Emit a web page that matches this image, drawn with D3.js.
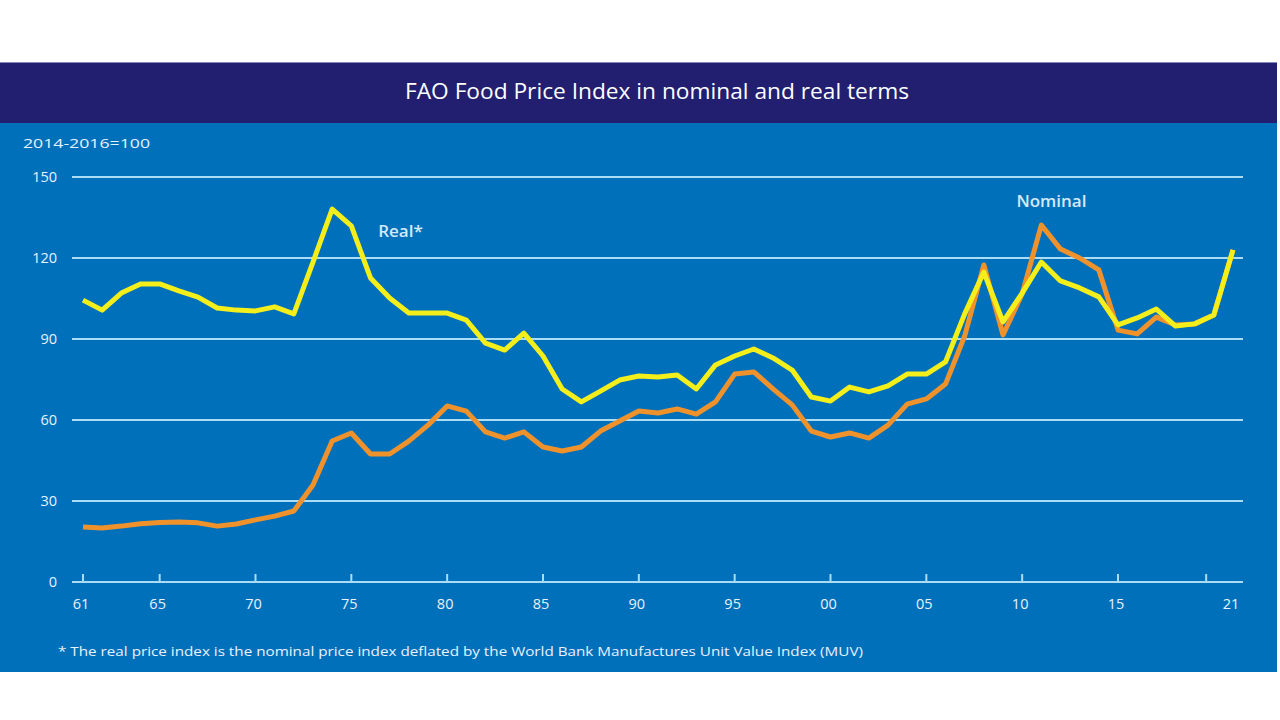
<!DOCTYPE html>
<html>
<head>
<meta charset="utf-8">
<script src="https://cdn.jsdelivr.net/npm/d3@7"></script>
<style>
  html, body { margin: 0; padding: 0; background: #ffffff; }
  svg { display: block; }
  text { font-family: "Open Sans", "Noto Sans", sans-serif; }
</style>
</head>
<body>
<svg id="chart" width="1280" height="720"></svg>
<script>
// ---- data ----
const years = d3.range(1961, 2022);
const realIndex = [
  104.4, 100.7, 107.0, 110.4, 110.4, 107.8, 105.5, 101.5, 100.7, 100.4,
  101.9, 99.3, 118.5, 138.1, 131.9, 112.6, 105.2, 99.6, 99.6, 99.6,
  97.0, 88.5, 85.9, 92.2, 83.7, 71.5, 66.7, 70.7, 74.8, 76.3,
  75.9, 76.7, 71.5, 80.4, 83.7, 86.3, 83.0, 78.5, 68.5, 67.0,
  72.2, 70.4, 72.6, 77.0, 77.0, 81.5, 99.3, 114.8, 96.3, 107.0,
  118.5, 111.5, 108.9, 105.6, 95.2, 97.8, 101.1, 94.8, 95.6, 98.9,
  123.0
];
const nominalIndex = [
  20.4, 20.0, 20.7, 21.6, 22.0, 22.2, 21.9, 20.7, 21.5, 23.0,
  24.4, 26.3, 35.9, 52.2, 55.2, 47.4, 47.4, 52.2, 58.1, 65.2,
  63.3, 55.6, 53.3, 55.6, 50.0, 48.5, 50.0, 55.9, 59.6, 63.3,
  62.6, 64.1, 62.2, 66.7, 77.0, 77.8, 71.5, 65.6, 55.9, 53.7,
  55.2, 53.3, 58.1, 65.9, 67.8, 73.3, 91.1, 117.4, 91.5, 106.7,
  132.2, 123.3, 120.0, 115.6, 93.3, 91.9, 98.1, 95.2, 95.6, 98.9,
  123.0
];
const yTicks = [0, 30, 60, 90, 120, 150];
const xTickYears = [1961, 1965, 1970, 1975, 1980, 1985, 1990, 1995, 2000, 2005, 2010, 2015, 2019.6];
const xLabelYears = [1961, 1965, 1970, 1975, 1980, 1985, 1990, 1995, 2000, 2005, 2010, 2015, 2021];
const xLabels = ["61", "65", "70", "75", "80", "85", "90", "95", "00", "05", "10", "15", "21"];
const titleText = "FAO Food Price Index in nominal and real terms";
const unitText = "2014-2016=100";
const footnoteText = "* The real price index is the nominal price index deflated by the World Bank Manufactures Unit Value Index (MUV)";
const seriesLabels = [
  { name: "Real*", year: 1976.4, value: 127.8 },
  { name: "Nominal", year: 2009.7, value: 138.8 }
];

// ---- layout ----
const svg = d3.select("#chart");
const panel = { x0: 0, x1: 1277, top: 62, titleBottom: 123, bottom: 672 };
const plot = { left: 72, right: 1243 };

const x = d3.scaleLinear().domain([1961, 2021]).range([83, 1233]);
const y = d3.scaleLinear().domain([0, 150]).range([582, 177]);

// panel backgrounds
svg.append("rect")
  .attr("x", panel.x0).attr("y", panel.titleBottom)
  .attr("width", panel.x1 - panel.x0).attr("height", panel.bottom - panel.titleBottom)
  .attr("fill", "#0070bb");
svg.append("rect")
  .attr("x", panel.x0).attr("y", panel.top)
  .attr("width", panel.x1 - panel.x0).attr("height", panel.titleBottom - panel.top)
  .attr("fill", "#221f70");
svg.append("line")
  .attr("x1", panel.x0).attr("x2", panel.x1)
  .attr("y1", panel.top + 0.5).attr("y2", panel.top + 0.5)
  .attr("stroke", "#8a88c0").attr("stroke-width", 1);

// title
svg.append("text")
  .attr("x", 657).attr("y", 99)
  .attr("text-anchor", "middle")
  .attr("fill", "#ffffff")
  .attr("font-size", 21)
  .attr("textLength", 504).attr("lengthAdjust", "spacingAndGlyphs")
  .text(titleText);

// unit label
svg.append("text")
  .attr("x", 23).attr("y", 148)
  .attr("fill", "#e8f2fb")
  .attr("font-size", 13)
  .attr("textLength", 127).attr("lengthAdjust", "spacingAndGlyphs")
  .text(unitText);

// grid lines
const gridColor = "#a9dcf5";
svg.append("g")
  .selectAll("line")
  .data(yTicks)
  .join("line")
  .attr("x1", plot.left).attr("x2", plot.right)
  .attr("y1", d => y(d)).attr("y2", d => y(d))
  .attr("stroke", gridColor)
  .attr("stroke-width", 2.2);

// y tick labels
svg.append("g")
  .selectAll("text")
  .data(yTicks)
  .join("text")
  .attr("x", 57).attr("y", d => y(d) + 5)
  .attr("text-anchor", "end")
  .attr("fill", "#e8f2fb")
  .attr("font-size", 14.5)
  .text(d => d);

// x ticks (rising from baseline)
svg.append("g")
  .selectAll("line")
  .data(xTickYears)
  .join("line")
  .attr("x1", d => x(d)).attr("x2", d => x(d))
  .attr("y1", y(0)).attr("y2", y(0) - 8)
  .attr("stroke", gridColor)
  .attr("stroke-width", 2);

// x labels
svg.append("g")
  .selectAll("text")
  .data(xLabels)
  .join("text")
  .attr("x", (d, i) => x(xLabelYears[i]) - 2)
  .attr("y", 609)
  .attr("text-anchor", "middle")
  .attr("fill", "#e8f2fb")
  .attr("font-size", 14.5)
  .text(d => d);

// lines
const line = d3.line()
  .x((d, i) => x(years[i]))
  .y(d => y(d))
  .curve(d3.curveLinear);

svg.append("path")
  .datum(nominalIndex)
  .attr("d", line)
  .attr("fill", "none")
  .attr("stroke", "#f0922b")
  .attr("stroke-width", 5)
  .attr("stroke-linejoin", "round");

svg.append("path")
  .datum(realIndex)
  .attr("d", line)
  .attr("fill", "none")
  .attr("stroke", "#f4ee1b")
  .attr("stroke-width", 5)
  .attr("stroke-linejoin", "round");

// series labels
svg.append("g")
  .selectAll("text")
  .data(seriesLabels)
  .join("text")
  .attr("x", d => x(d.year))
  .attr("y", d => y(d.value))
  .attr("fill", "#d4e9f8")
  .attr("font-size", 17)
  .attr("font-weight", 600)
  .text(d => d.name);

// footnote
svg.append("text")
  .attr("x", 58).attr("y", 656)
  .attr("fill", "#e8f2fb")
  .attr("font-size", 13)
  .attr("textLength", 805).attr("lengthAdjust", "spacingAndGlyphs")
  .text(footnoteText);
</script>
</body>
</html>
